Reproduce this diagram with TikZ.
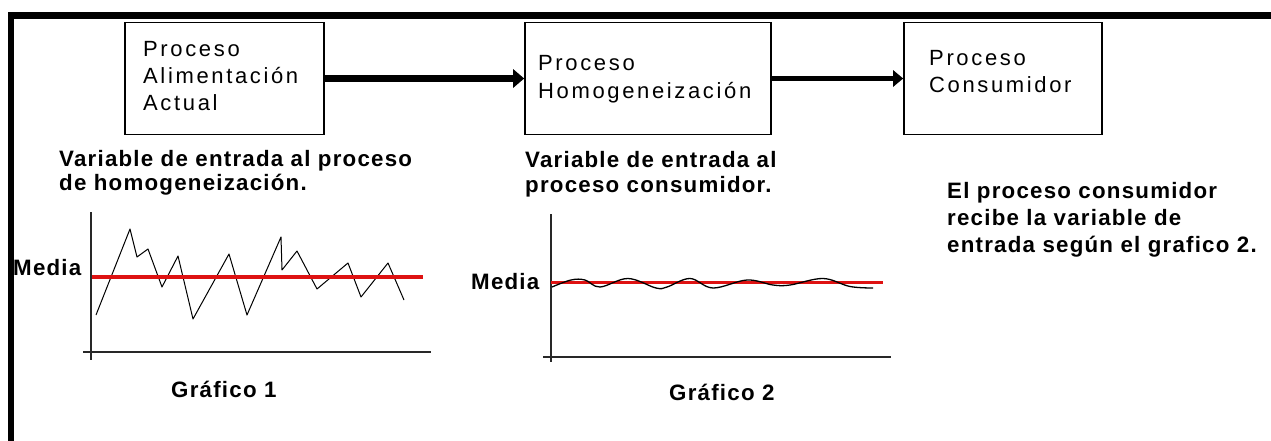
\documentclass[tikz,border=0pt]{standalone}
\usepackage{fontspec}
\setmainfont{Liberation Sans}
\newfontfamily\boxfont[LetterSpace=12]{Liberation Sans}
\newfontfamily\labfont[LetterSpace=5.5]{Liberation Sans}
\usetikzlibrary{arrows.meta}
\definecolor{meanred}{RGB}{222,18,18}
\definecolor{axisgray}{RGB}{40,40,40}
\begin{document}
\begin{tikzpicture}[x=1pt,y=-1pt,
  procbox/.style={draw, line width=1.6pt, inner sep=0pt},
  boxtxt/.style={font=\boxfont\fontsize{22}{26}\selectfont, inner sep=0pt, anchor=base west},
  labtxt/.style={font=\labfont\bfseries\fontsize{22.3}{26}\selectfont, inner sep=0pt, anchor=base west},
  flowa/.style={line width=6.5pt, -{Triangle[length=11pt,width=18pt]}},
  flowb/.style={line width=5pt, -{Triangle[length=10pt,width=16pt]}},
  axisline/.style={line width=1.6pt, draw=axisgray},
  meanline/.style={line width=3.5pt, draw=meanred},
  signal/.style={line width=1pt, draw=black, line join=round}]
\useasboundingbox (0,0) rectangle (1271,441);
\fill[white] (0,0) rectangle (1271,441);
% frame
\draw[line width=6.5pt, line join=miter] (11,441) -- (11,15.5) -- (1271,15.5);
% boxes
\node[procbox, minimum width=199pt, minimum height=112pt] (b1) at (224.5,78.5) {};
\node[procbox, minimum width=246pt, minimum height=112pt] (b2) at (648,78.5) {};
\node[procbox, minimum width=198pt, minimum height=112pt] (b3) at (1003,78.5) {};
\draw[flowa] (b1.east) -- (b2.west);
\draw[flowb] (b2.east) -- (b3.west);
% box texts
\node[boxtxt] (b1l1) at (143,57) {Proceso};
\node[boxtxt] (b1l2) at (143,84) {Alimentación};
\node[boxtxt] (b1l3) at (143,111) {Actual};
\node[boxtxt] (b2l1) at (538,71) {Proceso};
\node[boxtxt] (b2l2) at (538,99) {Homogeneización};
\node[boxtxt] (b3l1) at (929,66) {Proceso};
\node[boxtxt] (b3l2) at (929,93) {Consumidor};
% captions
\node[labtxt] (c1a) at (59,166) {Variable de entrada al proceso};
\node[labtxt] (c1b) at (59,190) {de homogeneización.};
\node[labtxt] (c2a) at (525,167) {Variable de entrada al};
\node[labtxt] (c2b) at (525,192) {proceso consumidor.};
\node[labtxt] (c3a) at (947,198) {El proceso consumidor};
\node[labtxt] (c3b) at (947,225) {recibe la variable de};
\node[labtxt] (c3c) at (947,252) {entrada según el grafico 2.};
% graph 1
\draw[axisline] (91,212) -- (91,360);
\draw[axisline] (83,352) -- (431,352);
\draw[signal] (96,315) -- (130,229) -- (137,257) -- (148,249) -- (162,287) -- (178,256)
  -- (193,319) -- (229,254) -- (247,315) -- (281,237) -- (282,270) -- (297,251)
  -- (317,289) -- (348,263) -- (361,297) -- (388,263) -- (404,300);
\draw[meanline] (92,277) -- (423,277);
\node[labtxt] (m1) at (13,275) {Media};
\node[labtxt] (g1) at (171,397) {Gráfico 1};
% graph 2
\draw[axisline] (551,214) -- (551,362);
\draw[axisline] (543,357) -- (891,357);
\draw[meanline, line width=3pt] (551,282) -- (883,282);
\draw[signal, line width=1.3pt] plot[smooth, tension=0.6] coordinates {(552,287) (571,280) (585,280) (600,287) (628,278.5) (656,288) (667,287) (690,278.5) (713,288) (747,280) (773,285) (790,285) (823,278.5) (850,286.5) (873,288)};
\node[labtxt] (m2) at (471,289) {Media};
\node[labtxt] (g2) at (669,400) {Gráfico 2};
\end{tikzpicture}
\end{document}
